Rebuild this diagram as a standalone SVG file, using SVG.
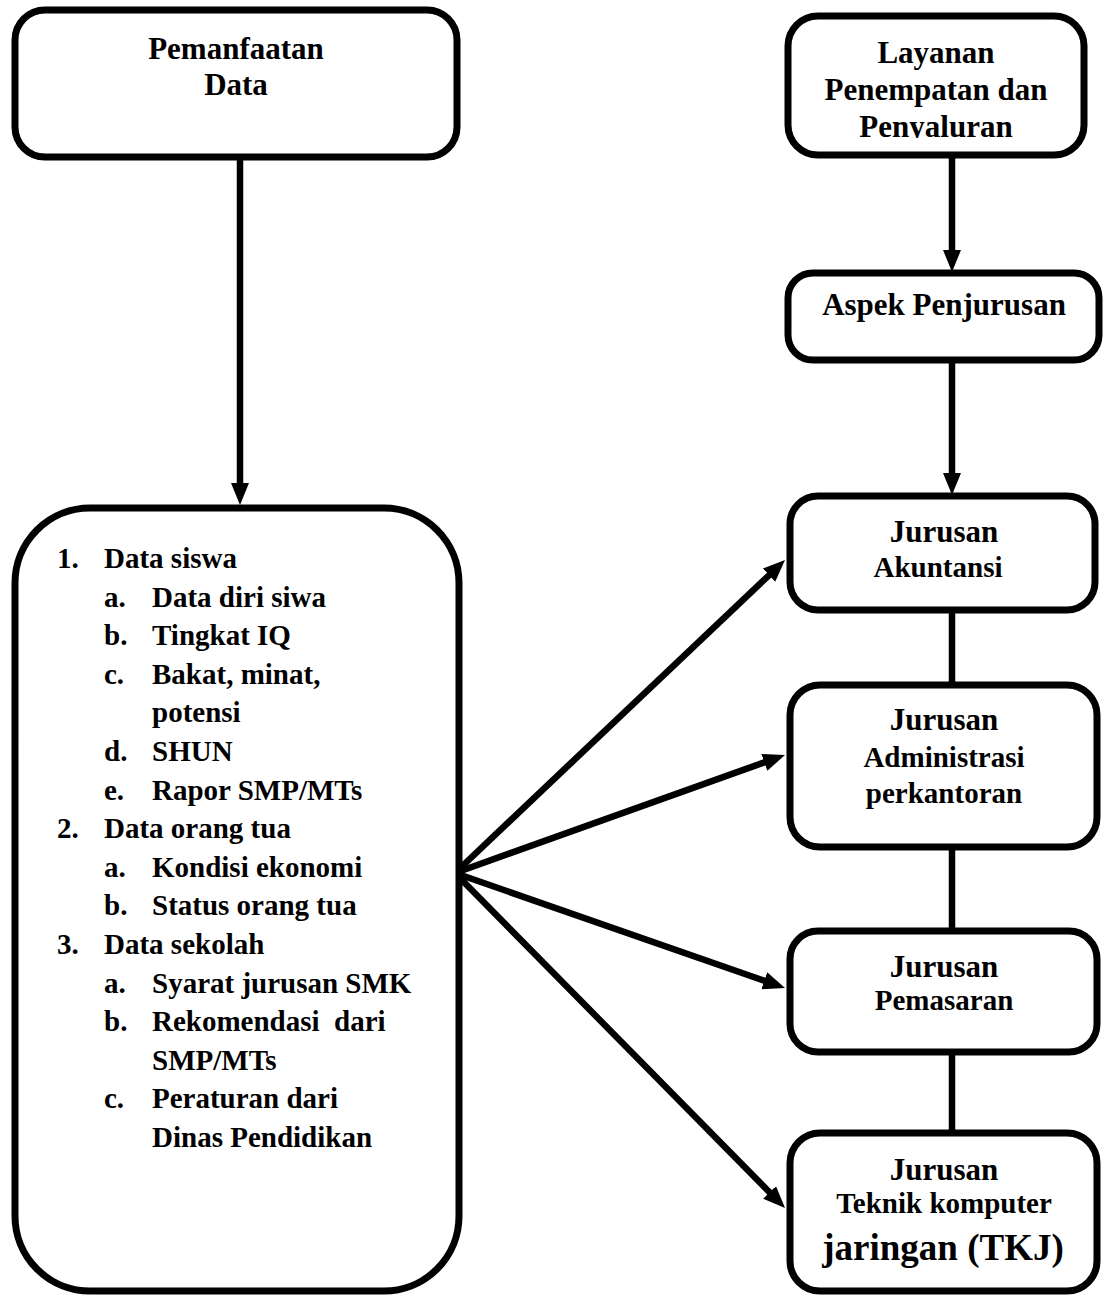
<svg xmlns="http://www.w3.org/2000/svg" width="1104" height="1296" viewBox="0 0 1104 1296">
<style>
.box{fill:#fff;stroke:#000;stroke-width:7}
.ln{stroke:#000;stroke-width:6.5;fill:none}
.t{font-family:"Liberation Serif","Times New Roman",serif;font-weight:bold;fill:#000}
.h{font-size:31px;text-anchor:middle}
.s{font-size:29px;text-anchor:middle}
.l{font-size:29px}
</style>
<defs>
<marker id="ah" markerUnits="userSpaceOnUse" markerWidth="24" markerHeight="20" refX="10" refY="9" orient="auto">
<path d="M0,0 L22,9 L0,18 z" fill="#000"/>
</marker>
<clipPath id="clipLay"><rect x="788" y="16" width="296" height="122"/></clipPath>
</defs>
<rect width="1104" height="1296" fill="#fff"/>
<g id="connectors">
<line class="ln" x1="240" y1="157" x2="240" y2="493" marker-end="url(#ah)"/>
<line class="ln" x1="952" y1="155" x2="952" y2="260" marker-end="url(#ah)"/>
<line class="ln" x1="952" y1="360" x2="952" y2="483" marker-end="url(#ah)"/>
<line class="ln" x1="952" y1="610" x2="952" y2="685"/>
<line class="ln" x1="952" y1="847" x2="952" y2="931"/>
<line class="ln" x1="952" y1="1052" x2="952" y2="1133"/>
<line class="ln" x1="455" y1="873" x2="776.3" y2="568.3" marker-end="url(#ah)"/>
<line class="ln" x1="455" y1="873" x2="773.7" y2="759.0" marker-end="url(#ah)"/>
<line class="ln" x1="455" y1="873" x2="773.7" y2="984.0" marker-end="url(#ah)"/>
<line class="ln" x1="455" y1="873" x2="776.6" y2="1199.5" marker-end="url(#ah)"/>
</g>
<g id="pemanfaatan">
<rect class="box" x="15" y="10" width="442" height="147" rx="30"/>
<text class="t h" x="236" y="59">Pemanfaatan</text>
<text class="t h" x="236" y="95">Data</text>
</g>
<g id="data-list">
<rect class="box" x="15" y="508" width="444" height="783" rx="75"/>
<text class="t l" x="57" y="568">1.</text><text class="t l" x="104" y="568">Data siswa</text>
<text class="t l" x="104" y="606.6">a.</text><text class="t l" x="152" y="606.6">Data diri siwa</text>
<text class="t l" x="104" y="645.2">b.</text><text class="t l" x="152" y="645.2">Tingkat IQ</text>
<text class="t l" x="104" y="683.8">c.</text><text class="t l" x="152" y="683.8">Bakat, minat,</text>
<text class="t l" x="152" y="722.4">potensi</text>
<text class="t l" x="104" y="761">d.</text><text class="t l" x="152" y="761">SHUN</text>
<text class="t l" x="104" y="799.6">e.</text><text class="t l" x="152" y="799.6">Rapor SMP/MTs</text>
<text class="t l" x="57" y="838.2">2.</text><text class="t l" x="104" y="838.2">Data orang tua</text>
<text class="t l" x="104" y="876.8">a.</text><text class="t l" x="152" y="876.8">Kondisi ekonomi</text>
<text class="t l" x="104" y="915.4">b.</text><text class="t l" x="152" y="915.4">Status orang tua</text>
<text class="t l" x="57" y="954">3.</text><text class="t l" x="104" y="954">Data sekolah</text>
<text class="t l" x="104" y="992.6">a.</text><text class="t l" x="152" y="992.6">Syarat jurusan SMK</text>
<text class="t l" x="104" y="1031.2">b.</text><text class="t l" x="152" y="1031.2" xml:space="preserve" style="white-space:pre">Rekomendasi  dari</text>
<text class="t l" x="152" y="1069.8">SMP/MTs</text>
<text class="t l" x="104" y="1108.4">c.</text><text class="t l" x="152" y="1108.4">Peraturan dari</text>
<text class="t l" x="152" y="1147">Dinas Pendidikan</text>
</g>
<g id="layanan">
<rect class="box" x="788" y="16" width="296" height="139" rx="30"/>
<g clip-path="url(#clipLay)">
<text class="t h" x="936" y="63">Layanan</text>
<text class="t h" x="936" y="100">Penempatan dan</text>
<text class="t h" x="936" y="137">Penyaluran</text>
</g>
</g>
<g id="aspek">
<rect class="box" x="788" y="273" width="311" height="87" rx="25"/>
<text class="t h" x="944" y="315">Aspek Penjurusan</text>
</g>
<g id="akuntansi">
<rect class="box" x="790" y="496" width="305" height="114" rx="28"/>
<text class="t h" x="944" y="542">Jurusan</text>
<text class="t s" x="938" y="577">Akuntansi</text>
</g>
<g id="administrasi">
<rect class="box" x="790" y="685" width="307" height="162" rx="30"/>
<text class="t h" x="944" y="730">Jurusan</text>
<text class="t s" x="944" y="767">Administrasi</text>
<text class="t s" x="944" y="803">perkantoran</text>
</g>
<g id="pemasaran">
<rect class="box" x="790" y="931" width="307" height="121" rx="28"/>
<text class="t h" x="944" y="977">Jurusan</text>
<text class="t s" x="944" y="1010">Pemasaran</text>
</g>
<g id="tkj">
<rect class="box" x="790" y="1133" width="307" height="158" rx="30"/>
<text class="t h" x="944" y="1180">Jurusan</text>
<text class="t s" x="944" y="1213">Teknik komputer</text>
<text class="t" x="943" y="1260" style="font-size:37px;text-anchor:middle">jaringan (TKJ)</text>
</g>
</svg>
